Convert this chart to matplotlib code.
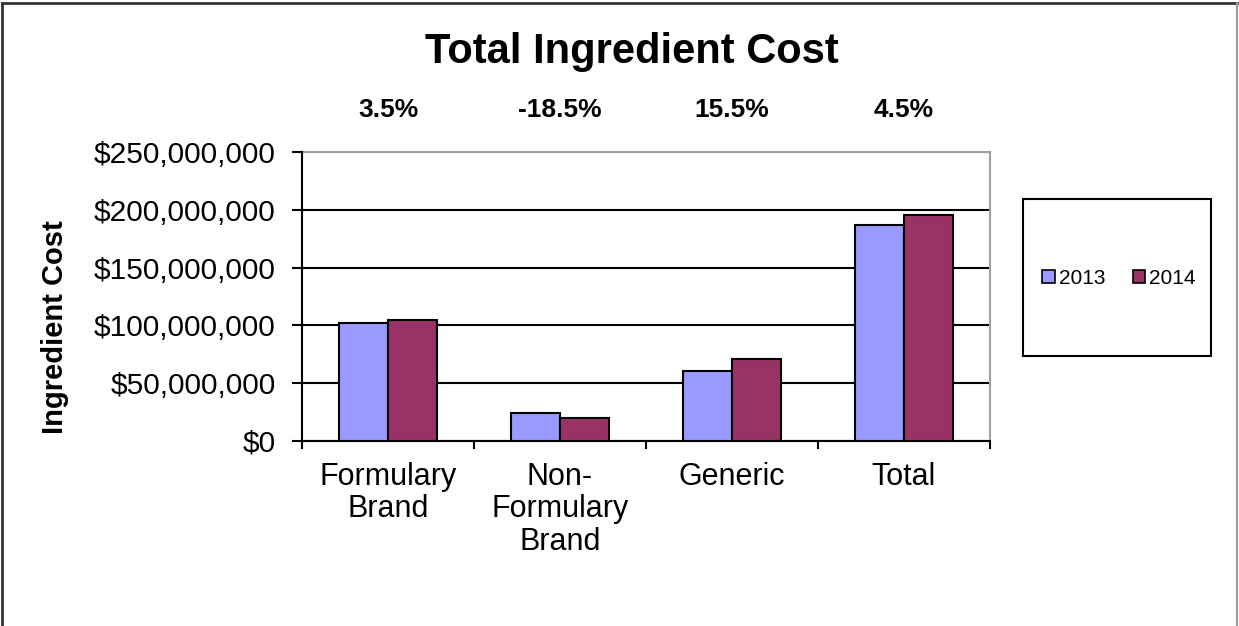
import numpy as np
import matplotlib
matplotlib.use("Agg")
import matplotlib.pyplot as plt
from matplotlib.patches import Patch, Rectangle
from matplotlib.lines import Line2D
from matplotlib.ticker import FuncFormatter
from matplotlib.transforms import blended_transform_factory

plt.rcParams['font.family'] = ['Liberation Sans', 'DejaVu Sans']

# data
categories = ["Formulary\nBrand", "Non-\nFormulary\nBrand", "Generic", "Total"]
cost_2013 = [101.8e6, 24.3e6, 60.7e6, 187.2e6]
cost_2014 = [105.0e6, 19.6e6, 70.8e6, 195.9e6]
pct_change = ["3.5%", "-18.5%", "15.5%", "4.5%"]
years = ["2013", "2014"]
colors = ["#9999FF", "#993366"]

W, H = 1239, 626
fig = plt.figure(figsize=(W / 100, H / 100), dpi=100)
ax = fig.add_axes([302 / W, 1 - 440.7 / H, (990 - 302) / W, (440.7 - 152.3) / H])

x = np.arange(len(categories))
bw = 0.282
ax.bar(x - bw / 2, cost_2013, bw, color=colors[0], edgecolor="black", linewidth=1.5, zorder=3)
ax.bar(x + bw / 2, cost_2014, bw, color=colors[1], edgecolor="black", linewidth=1.5, zorder=3)

ax.set_xlim(-0.5, len(categories) - 0.5)
ax.set_ylim(0, 250e6)
ax.set_yticks(np.arange(0, 250e6 + 1, 50e6))
ax.yaxis.set_major_formatter(FuncFormatter(lambda v, p: f"${v:,.0f}"))
ax.tick_params(axis="y", direction="out", length=7, width=1.5, pad=12, labelsize=21.5)
ax.yaxis.grid(True, color="black", linewidth=1.5, zorder=1)

ax.set_xticks(x)
ax.set_xticklabels(categories, fontsize=22, linespacing=1.12, va="top")
ax.tick_params(axis="x", which="major", length=0, pad=15)
ax.set_xticks(np.arange(-0.5, len(categories)), minor=True)
ax.tick_params(axis="x", which="minor", direction="out", length=6, width=1.5)

for side in ["left", "bottom"]:
    ax.spines[side].set_color("black")
    ax.spines[side].set_linewidth(1.5)
for side in ["top", "right"]:
    ax.spines[side].set_color("#a0a0a0")
    ax.spines[side].set_linewidth(1.5)
ax.spines["top"].set_zorder(2)

# percent change labels above each category
trans = blended_transform_factory(ax.transData, fig.transFigure)
for xi, txt in zip(x, pct_change):
    ax.text(xi, 1 - 110 / H, txt, transform=trans, ha="center", va="center",
            fontsize=19, fontweight="bold")

fig.text(632 / W, 1 - 52 / H, "Total Ingredient Cost", ha="center", va="center",
         fontsize=30, fontweight="bold")
fig.text(55 / W, 1 - 327 / H, "Ingredient Cost", rotation=90, ha="center", va="center",
         fontsize=21, fontweight="bold")

# legend box
fig.patches.append(Rectangle((1023 / W, 1 - 356 / H), (1211 - 1023) / W, (356 - 199) / H,
                             transform=fig.transFigure, facecolor="white",
                             edgecolor="black", linewidth=1.5))
handles = [Patch(facecolor=c, edgecolor="black", linewidth=1.2) for c in colors]
fig.legend(handles, years, loc="center", bbox_to_anchor=(1119 / W, 1 - 278 / H), ncol=2,
           frameon=False, fontsize=15, handlelength=0.6, handleheight=0.6,
           handletextpad=0.2, columnspacing=1.3)

# outer chart frame
fig.add_artist(Line2D([2 / W, 2 / W], [0, 1 - 3 / H], transform=fig.transFigure, color="#333333", linewidth=2))
fig.add_artist(Line2D([2 / W, 1237 / W], [1 - 3 / H, 1 - 3 / H], transform=fig.transFigure, color="#333333", linewidth=2))
fig.add_artist(Line2D([1237 / W, 1237 / W], [0, 1 - 3 / H], transform=fig.transFigure, color="#999999", linewidth=1.5))

fig.savefig("out.png", dpi=100, facecolor="white")
